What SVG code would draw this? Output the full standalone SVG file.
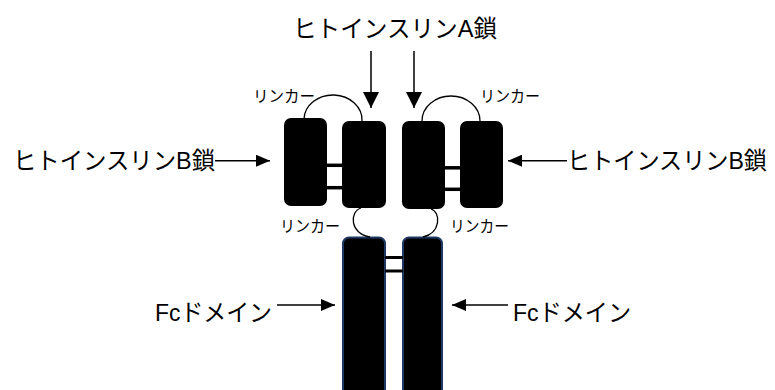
<svg xmlns="http://www.w3.org/2000/svg" width="775" height="390" viewBox="0 0 775 390">
  <style>
    .lbl { font-family: "Liberation Sans", "Noto Sans CJK JP", sans-serif; fill: #000; }
    .big { font-size: 24px; }
    .small { font-size: 16px; }
    .box { fill: #000; }
    .fc { fill: #000; stroke: #1f3864; stroke-width: 2; }
    .bar { stroke: #000; stroke-width: 3.5; }
    .link { fill: none; stroke: #000; stroke-width: 1.3; }
    .arr { fill: none; stroke: #000; stroke-width: 1.5; }
  </style>
  <defs>
    <marker id="headV" markerUnits="userSpaceOnUse" markerWidth="16" markerHeight="16" viewBox="0 0 16 16" refX="16" refY="8" orient="auto">
      <path d="M0,0 L16,8 L0,16 z" fill="#000"/>
    </marker>
    <marker id="headH" markerUnits="userSpaceOnUse" markerWidth="14" markerHeight="12" viewBox="0 0 14 12" refX="14" refY="6" orient="auto">
      <path d="M0,0 L14,6 L0,12 z" fill="#000"/>
    </marker>
  </defs>

  <g id="a-chain-label">
    <text class="lbl big" x="293" y="37" textLength="204" lengthAdjust="spacingAndGlyphs">ヒトインスリンA鎖</text>
  </g>
  <g id="b-chain-label-left">
    <text class="lbl big" x="13" y="169" textLength="202" lengthAdjust="spacingAndGlyphs">ヒトインスリンB鎖</text>
  </g>
  <g id="b-chain-label-right">
    <text class="lbl big" x="567" y="169" textLength="200" lengthAdjust="spacingAndGlyphs">ヒトインスリンB鎖</text>
  </g>
  <g id="fc-label-left">
    <text class="lbl big" x="155" y="321" textLength="117" lengthAdjust="spacingAndGlyphs">Fcドメイン</text>
  </g>
  <g id="fc-label-right">
    <text class="lbl big" x="513" y="321" textLength="118" lengthAdjust="spacingAndGlyphs">Fcドメイン</text>
  </g>
  <g id="linker-label-tl">
    <text class="lbl small" x="253" y="102" textLength="62" lengthAdjust="spacingAndGlyphs">リンカー</text>
  </g>
  <g id="linker-label-tr">
    <text class="lbl small" x="480" y="102" textLength="60" lengthAdjust="spacingAndGlyphs">リンカー</text>
  </g>
  <g id="linker-label-bl">
    <text class="lbl small" x="280" y="232" textLength="60" lengthAdjust="spacingAndGlyphs">リンカー</text>
  </g>
  <g id="linker-label-br">
    <text class="lbl small" x="450" y="232" textLength="59" lengthAdjust="spacingAndGlyphs">リンカー</text>
  </g>

  <g id="b-chain-left"><rect class="box" x="284" y="118" width="43" height="88" rx="7"/></g>
  <g id="a-chain-left"><rect class="box" x="342" y="121" width="44" height="87" rx="7"/></g>
  <g id="a-chain-right"><rect class="box" x="402" y="121" width="43" height="88" rx="7"/></g>
  <g id="b-chain-right"><rect class="box" x="460" y="121" width="43" height="87" rx="7"/></g>
  <g id="fc-left"><rect class="fc" x="343" y="237.5" width="42" height="170" rx="6"/></g>
  <g id="fc-right"><rect class="fc" x="403" y="237.5" width="39" height="170" rx="6"/></g>

  <g id="connectors">
    <line class="bar" x1="327" y1="165.3" x2="342" y2="165.3"/>
    <line class="bar" x1="327" y1="187.7" x2="342" y2="187.7"/>
    <line class="bar" x1="445" y1="167.8" x2="460" y2="167.8"/>
    <line class="bar" x1="445" y1="189.3" x2="460" y2="189.3"/>
    <line class="bar" x1="385" y1="257.5" x2="403" y2="257.5" style="stroke-width:3"/>
    <line class="bar" x1="385" y1="271" x2="403" y2="271" style="stroke-width:3"/>

    <path class="link" d="M304,119 A29,25 0 0 1 362,121"/>
    <path class="link" d="M422,121 A29,25 0 0 1 480,121"/>
    <path class="link" d="M361,208 C349,212 350,234 370,237"/>
    <path class="link" d="M431,209 C441,212 441,233 423,237"/>

    <line class="arr" x1="371" y1="51" x2="371" y2="108" marker-end="url(#headV)"/>
    <line class="arr" x1="414" y1="51" x2="414" y2="108" marker-end="url(#headV)"/>
    <line class="arr" x1="215" y1="160.7" x2="270" y2="160.7" marker-end="url(#headH)"/>
    <line class="arr" x1="567" y1="160.7" x2="508" y2="160.7" marker-end="url(#headH)"/>
    <line class="arr" x1="277" y1="305" x2="335" y2="305" marker-end="url(#headH)"/>
    <line class="arr" x1="508" y1="305" x2="452" y2="305" marker-end="url(#headH)"/>
  </g>
</svg>
